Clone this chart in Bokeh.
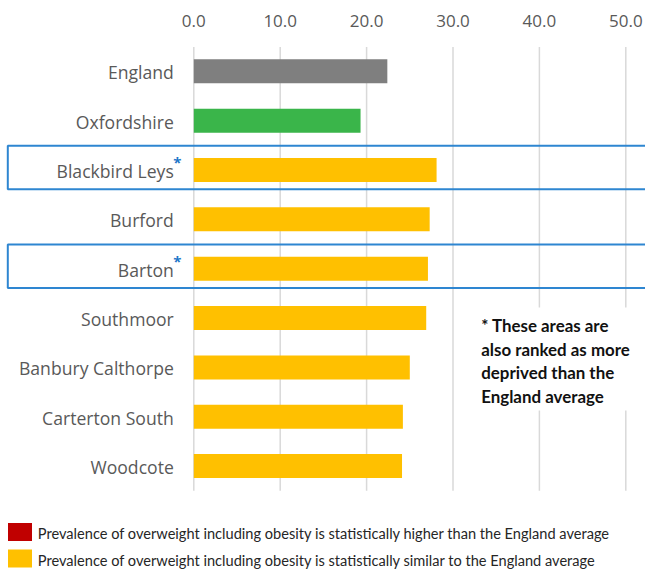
from bokeh.plotting import figure
from bokeh.models import Range1d, ColumnDataSource
from bokeh.core.properties import value
from bokeh.embed import file_html
from bokeh.resources import INLINE

# Prevalence of overweight including obesity (%)
areas = ["England", "Oxfordshire", "Blackbird Leys", "Burford", "Barton",
         "Southmoor", "Banbury Calthorpe", "Carterton South", "Woodcote"]
prevalence = [22.4, 19.3, 28.1, 27.3, 27.1, 26.9, 25.0, 24.2, 24.1]
bar_colors = ["#7F7F7F", "#3AB54A", "#FFC000", "#FFC000", "#FFC000",
              "#FFC000", "#FFC000", "#FFC000", "#FFC000"]
deprived = [False, False, True, False, True, False, False, False, False]

ticks = [0, 10, 20, 30, 40, 50]
tick_labels = ["0.0", "10.0", "20.0", "30.0", "40.0", "50.0"]

note_lines = ["* These areas are", "also ranked as more",
              "deprived than the", "England average"]

legend_labels = [
    "Prevalence of overweight including obesity is statistically higher than the England average",
    "Prevalence of overweight including obesity is statistically similar to the England average",
]
legend_colors = ["#C00000", "#FFC000"]

W, H = 645, 570
PX_X = 8.64          # pixels per percentage point
X0 = 193.3           # pixel position of 0 %
ROW = 49.35          # pixels per row
Y0 = 70.8            # pixel centre of first row


def xd(px):
    return (px - X0) / PX_X


def yd(px):
    return (px - Y0) / ROW


p = figure(width=W, height=H, output_backend="svg", toolbar_location=None,
           x_range=Range1d(xd(0), xd(W)), y_range=Range1d(yd(H), yd(0)),
           min_border=0, outline_line_color=None)
p.axis.visible = False
p.grid.visible = False
p.background_fill_color = "white"

rows = list(range(len(areas)))
n = len(areas)

# vertical gridlines
p.segment(x0=ticks, x1=ticks, y0=[-0.49] * len(ticks), y1=[n - 0.5] * len(ticks),
          line_color="#D9D9D9", line_width=1.5)

# tick labels along the top
p.text(x=ticks, y=[-0.49] * len(ticks), text=tick_labels, y_offset=-26,
       text_align="center", text_baseline="middle", text_color="#595959",
       text_font=value("Open Sans"), text_font_size="17px")

# bars
src = ColumnDataSource(dict(y=rows, right=prevalence, color=bar_colors))
p.hbar(y="y", left=0, right="right", height=0.486, fill_color="color",
       line_color=None, source=src)

# category labels
p.text(x=[0] * n, y=rows, text=areas, x_offset=-20, y_offset=1,
       text_align="right", text_baseline="middle", text_color="#595959",
       text_font=value("Open Sans"), text_font_size="17.6px")

# highlight boxes and asterisks for deprived areas
hl = [r for r, d in zip(rows, deprived) if d]
p.quad(left=[xd(7.3)] * len(hl), right=[xd(W + 5)] * len(hl),
       top=[r - 0.49 for r in hl], bottom=[r + 0.39 for r in hl],
       fill_color=None, line_color="#2E86D1", line_width=2)
p.text(x=[0] * len(hl), y=hl, text=["*"] * len(hl), x_offset=-20.5, y_offset=-8,
       text_align="left", text_baseline="middle", text_color="#1F77C9",
       text_font=value("Open Sans"), text_font_style="bold", text_font_size="15px")

# footnote box
p.quad(left=[xd(470)], right=[xd(W + 5)], top=[yd(307)], bottom=[yd(410)],
       fill_color="white", line_color=None)
p.text(x=[xd(480.7)] * len(note_lines),
       y=[yd(325 + 23.6 * k) for k in range(len(note_lines))],
       text=note_lines, text_align="left", text_baseline="middle",
       text_color="#111111", text_font=value("Lato"), text_font_style="bold",
       text_font_size="16.9px")

# colour key
key_y = [yd(531.5), yd(558)]
p.rect(x=[xd(19.5)] * 2, y=key_y, width=24, height=18, width_units="screen",
       height_units="screen", fill_color=legend_colors, line_color=None)
p.text(x=[xd(37.3)] * 2, y=key_y, text=legend_labels, y_offset=1.5,
       text_align="left", text_baseline="middle", text_color="#262626",
       text_font=value("Lato"), text_font_size="14.6px")

open("out.html", "w").write(file_html(p, INLINE))
